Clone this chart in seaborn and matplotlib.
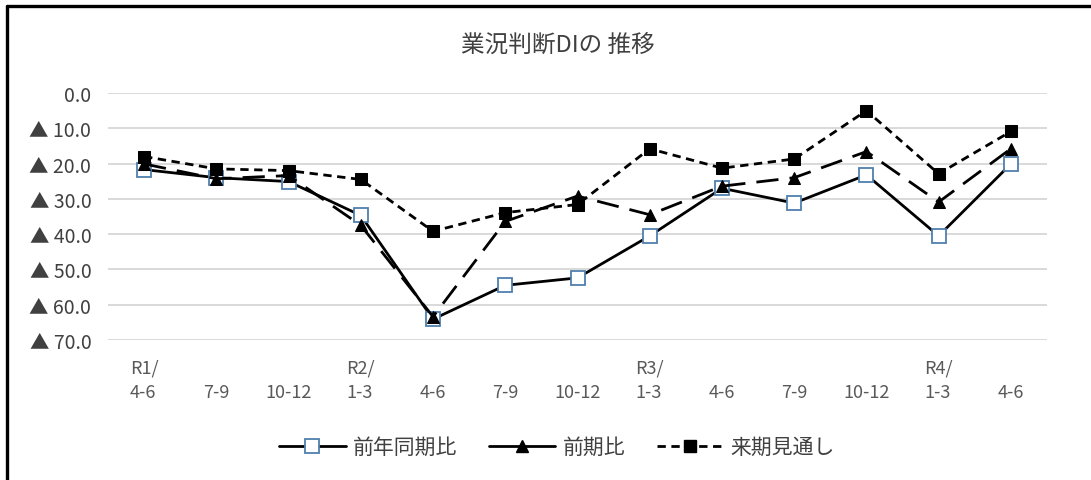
import numpy as np
import pandas as pd
import seaborn as sns
import matplotlib
matplotlib.use("Agg")
import matplotlib.pyplot as plt
from matplotlib.lines import Line2D

sns.set_theme(style="white")
plt.rcParams['font.family'] = ['Noto Sans CJK JP', 'DejaVu Sans']

# Quarter labels (year marker on the first line where a new year starts)
periods = ["R1/\n4-6", "\n7-9", "\n10-12", "R2/\n1-3", "\n4-6", "\n7-9", "\n10-12",
           "R3/\n1-3", "\n4-6", "\n7-9", "\n10-12", "R4/\n1-3", "\n4-6"]

# 業況判断DI (negative = ▲)
yoy = [-21.7, -24.0, -25.1, -34.7, -64.1, -54.5, -52.4,
       -40.5, -27.0, -31.2, -23.2, -40.5, -20.1]
qoq = [-20.1, -24.3, -23.4, -37.5, -63.4, -36.4, -29.2,
       -34.5, -26.4, -24.0, -16.6, -30.9, -15.8]
outlook = [-18.0, -21.5, -22.0, -24.5, -39.2, -33.9, -31.6,
           -15.8, -21.3, -18.7, -5.0, -22.9, -10.9]

series_names = ["前年同期比", "前期比", "来期見通し"]

x = np.arange(len(periods))
df = pd.DataFrame({"x": np.tile(x, 3),
                   "value": yoy + qoq + outlook,
                   "series": np.repeat(series_names, len(periods))})

fig = plt.figure(figsize=(10.91, 4.81), dpi=100)
ax = fig.add_axes([108 / 1091, 1 - 341 / 481, (1047 - 108) / 1091, (341 - 94) / 481])

styles = {
    "前年同期比": dict(color="black", linestyle="-", marker="s", markersize=9.5,
                   markerfacecolor="white", markeredgecolor="#4f7fae", markeredgewidth=1.3),
    "前期比": dict(color="black", linestyle=(0, (8, 4)), marker="^", markersize=9,
                markerfacecolor="black", markeredgecolor="black"),
    "来期見通し": dict(color="black", linestyle=(0, (3, 2)), marker="s", markersize=9,
                  markerfacecolor="black", markeredgecolor="black"),
}

handles = []
for name in series_names:
    sub = df[df["series"] == name]
    sns.lineplot(data=sub, x="x", y="value", ax=ax, linewidth=2.0,
                 legend=False, **styles[name])
    hstyle = dict(styles[name])
    if name == "前期比":
        # long dashes read as solid segments at legend-handle length
        hstyle["linestyle"] = "-"
    handles.append(Line2D([], [], linewidth=2.0, **hstyle))

ax.set_xlim(-0.5, len(periods) - 0.5)
ax.set_ylim(-70, 0)
yt = np.arange(-70, 1, 10)
ax.set_yticks(yt)
ax.set_yticklabels(["0.0" if v == 0 else f"▲ {abs(v):.1f}" for v in yt])
ax.set_xticks(x)
ax.set_xticklabels(periods, multialignment="left", linespacing=1.5)
ax.set_xlabel("")
ax.set_ylabel("")

ax.grid(axis="y", color="#d9d9d9", linewidth=1.4)
ax.grid(axis="x", visible=False)
ax.set_axisbelow(True)
for s in ax.spines.values():
    s.set_visible(False)
ax.tick_params(axis="x", length=0, labelsize=13, colors="#595959", pad=13)
ax.tick_params(axis="y", length=0, labelsize=14, colors="#404040", pad=12)

fig.text(0.511, 1 - 45 / 481, "業況判断DIの 推移", ha="center", va="center",
         fontsize=17, color="#404040")

fig.legend(handles, series_names, loc="center", bbox_to_anchor=(557 / 1091, 1 - 448 / 481),
           ncol=3, frameon=False, fontsize=15, handlelength=3.2, columnspacing=1.5,
           handletextpad=0.35, labelcolor="#404040")

# outer frame (left and top edges)
fig.add_artist(Line2D([7 / 1091, 7 / 1091], [0, 1 - 7 / 481], color="black",
                      linewidth=2.4, transform=fig.transFigure))
fig.add_artist(Line2D([7 / 1091, 1], [1 - 7 / 481, 1 - 7 / 481], color="black",
                      linewidth=2.4, transform=fig.transFigure))

fig.savefig("out.png", dpi=100, facecolor="white")
